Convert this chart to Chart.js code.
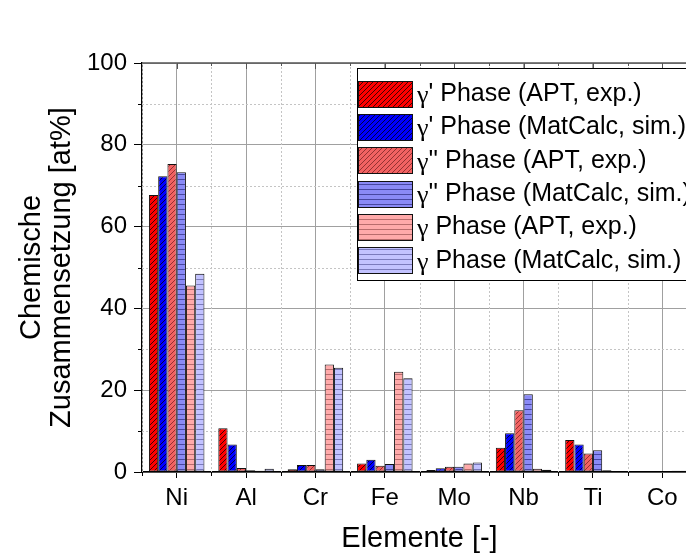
<!DOCTYPE html>
<html>
<head>
<meta charset="utf-8">
<script src="https://cdn.jsdelivr.net/npm/chart.js@4/dist/chart.umd.min.js"></script>
<style>
  html, body { margin: 0; padding: 0; background: #fff; overflow: hidden; }
  canvas { position: absolute; left: 0; top: 0; }
</style>
</head>
<body>
<canvas id="mycanvas" width="720" height="556"></canvas>
<script>
// element names on the x axis
const elements = ['Ni', 'Al', 'Cr', 'Fe', 'Mo', 'Nb', 'Ti', 'Co'];

// composition in at%
const gammaPrimeAPT = [67.7, 10.7, 0.7, 2.1, 0.5, 5.9, 7.8, 0.1];
const gammaPrimeMC = [72.3, 6.7, 1.7, 3.0, 0.9, 9.5, 6.7, 0];
const gammaDPrimeAPT = [75.3, 1.0, 1.7, 1.5, 1.3, 15.1, 4.5, 0];
const gammaDPrimeMC = [73.3, 0.4, 0.7, 1.95, 1.3, 19.0, 5.3, 0.1];
const gammaAPT = [45.6, 0.3, 26.3, 24.5, 2.1, 0.8, 0.4, 0.3];
const gammaMC = [48.5, 0.8, 25.5, 22.9, 2.35, 0.55, 0.1, 0.3];

const seriesLabels = [
    "γ' Phase (APT, exp.)",
    "γ' Phase (MatCalc, sim.)",
    "γ'' Phase (APT, exp.)",
    "γ'' Phase (MatCalc, sim.)",
    "γ Phase (APT, exp.)",
    "γ Phase (MatCalc, sim.)"
];

const yTicks = [0, 20, 40, 60, 80, 100];

const SANS = "'Liberation Sans', Arial, sans-serif";
const SERIF = "'Liberation Serif', 'DejaVu Serif', serif";

let ctx = document.getElementById('mycanvas').getContext('2d');

// hatch fill like the original plot
function makePattern(bg, line, type) {
    let c = document.createElement('canvas');
    let s = 5;
    c.width = s;
    c.height = s;
    let g = c.getContext('2d');
    g.fillStyle = bg;
    g.fillRect(0, 0, s, s);
    g.strokeStyle = line;
    g.fillStyle = line;
    if (type === 'diag') {
        g.lineWidth = 0.9;
        g.beginPath();
        g.moveTo(0, s); g.lineTo(s, 0);
        g.moveTo(-1, 1); g.lineTo(1, -1);
        g.moveTo(s - 1, s + 1); g.lineTo(s + 1, s - 1);
        g.stroke();
    } else {
        g.fillRect(0, s - 1, s, 1);
    }
    return ctx.createPattern(c, 'repeat');
}

const fills = [
    makePattern('#ff0000', '#300000', 'diag'),
    makePattern('#0000ff', '#000030', 'diag'),
    makePattern('#f26262', '#8a2c2c', 'diag'),
    makePattern('#8a8af6', '#4646a0', 'horiz'),
    makePattern('#ffaaaa', '#b86c6c', 'horiz'),
    makePattern('#c2c2ff', '#7a7abc', 'horiz')
];

const allValues = [gammaPrimeAPT, gammaPrimeMC, gammaDPrimeAPT, gammaDPrimeMC, gammaAPT, gammaMC];

const datasets = allValues.map((vals, i) => ({
    label: seriesLabels[i],
    data: vals,
    backgroundColor: fills[i],
    borderColor: '#111',
    borderWidth: 1,
    borderSkipped: false,
    categoryPercentage: 0.8,
    barPercentage: 1.0
}));

// minor grid, minor ticks, top frame and the legend box
const frameExtras = {
    id: 'frameExtras',
    beforeDatasetsDraw(chart) {
        const { ctx, chartArea: a, scales: { x, y } } = chart;
        const half = (x.getPixelForValue(1) - x.getPixelForValue(0)) / 2;
        ctx.save();
        ctx.lineWidth = 1;
        ctx.strokeStyle = '#c4c4c4';
        ctx.setLineDash([2, 2]);
        ctx.beginPath();
        for (let i = 0; i <= elements.length; i++) {
            let px = Math.round(x.getPixelForValue(i) - half) + 0.5;
            ctx.moveTo(px, a.top);
            ctx.lineTo(px, a.bottom);
        }
        for (let v = 10; v < 100; v += 20) {
            let py = Math.round(y.getPixelForValue(v)) + 0.5;
            ctx.moveTo(a.left, py);
            ctx.lineTo(a.right, py);
        }
        ctx.stroke();
        ctx.setLineDash([]);
        ctx.strokeStyle = '#000';
        ctx.beginPath();
        for (let i = 0; i <= elements.length; i++) {
            let px = Math.round(x.getPixelForValue(i) - half) + 0.5;
            ctx.moveTo(px, a.bottom);
            ctx.lineTo(px, a.bottom + 4);
        }
        for (let v = 10; v < 100; v += 20) {
            let py = Math.round(y.getPixelForValue(v)) + 0.5;
            ctx.moveTo(a.left - 4, py);
            ctx.lineTo(a.left, py);
        }
        ctx.stroke();
        ctx.restore();
    },
    afterDatasetsDraw(chart) {
        const { ctx, chartArea: a, scales: { x } } = chart;
        const half = (x.getPixelForValue(1) - x.getPixelForValue(0)) / 2;
        ctx.save();
        ctx.strokeStyle = '#555';
        ctx.lineWidth = 1.5;
        ctx.beginPath();
        ctx.moveTo(a.left, a.top);
        ctx.lineTo(a.right, a.top);
        ctx.stroke();
        ctx.lineWidth = 1;
        ctx.beginPath();
        for (let i = 0; i < elements.length; i++) {
            let c = Math.round(x.getPixelForValue(i)) + 0.5;
            ctx.moveTo(c, a.top); ctx.lineTo(c, a.top + 6);
            let b = Math.round(x.getPixelForValue(i) + half) + 0.5;
            ctx.moveTo(b, a.top); ctx.lineTo(b, a.top + 3);
        }
        ctx.stroke();
        ctx.restore();
    },
    afterDraw(chart) {
        const { ctx } = chart;
        const boxX = 357.5, boxY = 68.5, boxH = 212;
        ctx.save();
        ctx.fillStyle = '#fff';
        ctx.fillRect(boxX, boxY, 400, boxH);
        ctx.strokeStyle = '#000';
        ctx.lineWidth = 1;
        ctx.strokeRect(boxX, boxY, 400, boxH);
        chart.data.datasets.forEach((ds, i) => {
            let cy = 94.2 + i * 33.3;
            let sy = Math.round(cy - 13.5);
            ctx.fillStyle = ds.backgroundColor;
            ctx.fillRect(358, sy, 55, 27);
            ctx.strokeStyle = '#111';
            ctx.strokeRect(358.5, sy + 0.5, 54, 26);
            ctx.fillStyle = '#000';
            ctx.textBaseline = 'middle';
            ctx.textAlign = 'left';
            ctx.font = '26px ' + SERIF;
            ctx.fillText('γ', 417, cy + 2);
            let gw = ctx.measureText('γ').width;
            ctx.font = '25px ' + SANS;
            ctx.fillText(ds.label.slice(1), 417 + gw, cy);
        });
        ctx.restore();
    }
};

new Chart(ctx, {
    type: 'bar',
    data: {
        labels: elements,
        datasets: datasets
    },
    options: {
        responsive: false,
        animation: false,
        devicePixelRatio: 1,
        layout: { padding: { top: 63, right: 23, bottom: 0, left: 0 } },
        plugins: {
            legend: { display: false },
            tooltip: { enabled: false }
        },
        scales: {
            x: {
                offset: true,
                grid: {
                    offset: false,
                    color: '#a0a0a0',
                    lineWidth: 1,
                    tickLength: 6,
                    tickColor: '#000'
                },
                border: { color: '#000', width: 1.5 },
                ticks: {
                    color: '#000',
                    padding: 6,
                    maxRotation: 0,
                    font: { family: SANS, size: 24 }
                },
                title: {
                    display: true,
                    text: 'Elemente [-]',
                    color: '#000',
                    padding: { top: 0, bottom: 0 },
                    font: { family: SANS, size: 29, lineHeight: 1.2 }
                },
                afterFit(scale) { scale.height = 84; }
            },
            y: {
                min: 0,
                max: 100,
                afterBuildTicks(scale) {
                    scale.ticks = yTicks.map(v => ({ value: v }));
                },
                grid: {
                    color: '#a0a0a0',
                    lineWidth: 1,
                    tickLength: 8,
                    tickColor: '#000'
                },
                border: { color: '#000', width: 1.5 },
                ticks: {
                    color: '#000',
                    padding: 7,
                    font: { family: SANS, size: 24 }
                },
                title: {
                    display: true,
                    text: ['Chemische', 'Zusammensetzung [at%]'],
                    color: '#000',
                    padding: { top: 17, bottom: 0 },
                    font: { family: SANS, size: 29, lineHeight: '30px' }
                },
                afterFit(scale) { scale.width = 142; }
            }
        }
    },
    plugins: [frameExtras]
});
</script>
</body>
</html>
